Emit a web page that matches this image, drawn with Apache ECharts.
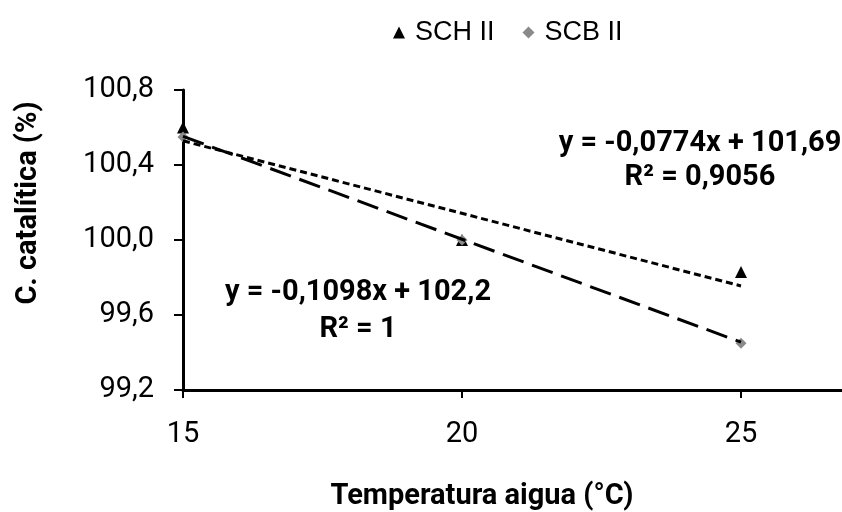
<!DOCTYPE html>
<html>
<head>
<meta charset="utf-8">
<script src="https://cdn.jsdelivr.net/npm/echarts@6/dist/echarts.min.js"></script>
<style>
  html, body { margin: 0; padding: 0; background: #fff; }
  #chart { width: 842px; height: 512px; }
</style>
</head>
<body>
<div id="chart"></div>
<script>
// Measured values per water temperature
const temperatures = [15, 20, 25];
const schValues = [100.6, 100.0, 99.83];
const scbValues = [100.55, 100.0, 99.45];
const seriesNames = ['SCH II', 'SCB II'];
const xTicks = [15, 20, 25];
const yTicks = [99.2, 99.6, 100.0, 100.4, 100.8];

// Linear fits: [slope, intercept, R²]
const schFit = [-0.0774, 101.69, 0.9056];
const scbFit = [-0.1098, 102.2, 1];

const comma = v => String(v).replace('.', ',');
const fitLine = f => [temperatures[0], temperatures[temperatures.length - 1]].map(x => [x, f[0] * x + f[1]]);
const eqText = f => 'y = ' + comma(f[0]) + 'x + ' + comma(f[1]) + '\nR² = ' + comma(f[2]);

const boldFont = 'bold 29px Roboto';
const chart = echarts.init(document.getElementById('chart'), null, { renderer: 'canvas' });

chart.setOption({
  animation: false,
  backgroundColor: '#ffffff',
  grid: { left: 183, right: 0, top: 90, bottom: 122, containLabel: false },
  legend: {
    left: 388, top: 14,
    itemWidth: 12, itemHeight: 12, itemGap: 28,
    textStyle: { fontFamily: 'Liberation Sans', fontSize: 27, color: '#000', padding: [0, 0, 0, 5] },
    data: [
      { name: seriesNames[0], icon: 'triangle', itemStyle: { color: '#000', opacity: 1 } },
      { name: seriesNames[1], icon: 'diamond', itemStyle: { color: '#8a8a8a', opacity: 1 } }
    ]
  },
  xAxis: {
    type: 'value',
    min: 15, max: 26.81, interval: 5,
    splitLine: { show: false },
    axisLine: { onZero: false, lineStyle: { color: '#000', width: 3 } },
    axisTick: { show: true, length: 8, customValues: xTicks, lineStyle: { color: '#000', width: 2 } },
    axisLabel: {
      customValues: xTicks,
      margin: 30,
      fontFamily: 'Roboto', fontSize: 29, color: '#000',
      formatter: v => String(v)
    }
  },
  yAxis: {
    type: 'value',
    min: 99.2, max: 100.8, interval: 0.4,
    splitLine: { show: false },
    axisLine: { show: true, onZero: false, lineStyle: { color: '#000', width: 3 } },
    axisTick: { show: true, length: 9, customValues: yTicks, lineStyle: { color: '#000', width: 2 } },
    axisLabel: {
      customValues: yTicks,
      margin: 29,
      fontFamily: 'Roboto', fontSize: 29, color: '#000',
      formatter: v => v.toFixed(1).replace('.', ',')
    }
  },
  series: [
    {
      name: seriesNames[0], type: 'scatter',
      symbol: 'triangle', symbolSize: 12,
      itemStyle: { color: '#000', opacity: 1 },
      data: temperatures.map((t, i) => [t, schValues[i]]),
      z: 2
    },
    {
      name: seriesNames[1], type: 'scatter',
      symbol: 'diamond', symbolSize: 11,
      itemStyle: { color: '#8a8a8a', opacity: 1 },
      data: temperatures.map((t, i) => [t, scbValues[i]]),
      z: 3
    },
    {
      name: 'SCH II fit', type: 'line', symbol: 'none', silent: true,
      lineStyle: { color: '#000', width: 3, type: [7, 4] },
      data: fitLine(schFit), z: 4
    },
    {
      name: 'SCB II fit', type: 'line', symbol: 'none', silent: true,
      lineStyle: { color: '#000', width: 3, type: [22, 9] },
      data: fitLine(scbFit), z: 4
    }
  ],
  graphic: [
    {
      type: 'text', x: 700, y: 161,
      style: { text: eqText(schFit), font: boldFont, fill: '#000', align: 'center', verticalAlign: 'middle', textAlign: 'center', textVerticalAlign: 'middle', lineHeight: 34 }
    },
    {
      type: 'text', x: 358, y: 311,
      style: { text: eqText(scbFit), font: boldFont, fill: '#000', align: 'center', verticalAlign: 'middle', textAlign: 'center', textVerticalAlign: 'middle', lineHeight: 37 }
    },
    {
      type: 'text', x: 482, y: 497,
      style: { text: 'Temperatura aigua (°C)', font: boldFont, fill: '#000', align: 'center', verticalAlign: 'middle', textAlign: 'center', textVerticalAlign: 'middle' }
    },
    {
      type: 'text', x: 29, y: 203, rotation: Math.PI / 2,
      style: { text: 'C. catalítica (%)', font: boldFont, fill: '#000', align: 'center', verticalAlign: 'middle', textAlign: 'center', textVerticalAlign: 'middle' }
    }
  ]
});
</script>
</body>
</html>
